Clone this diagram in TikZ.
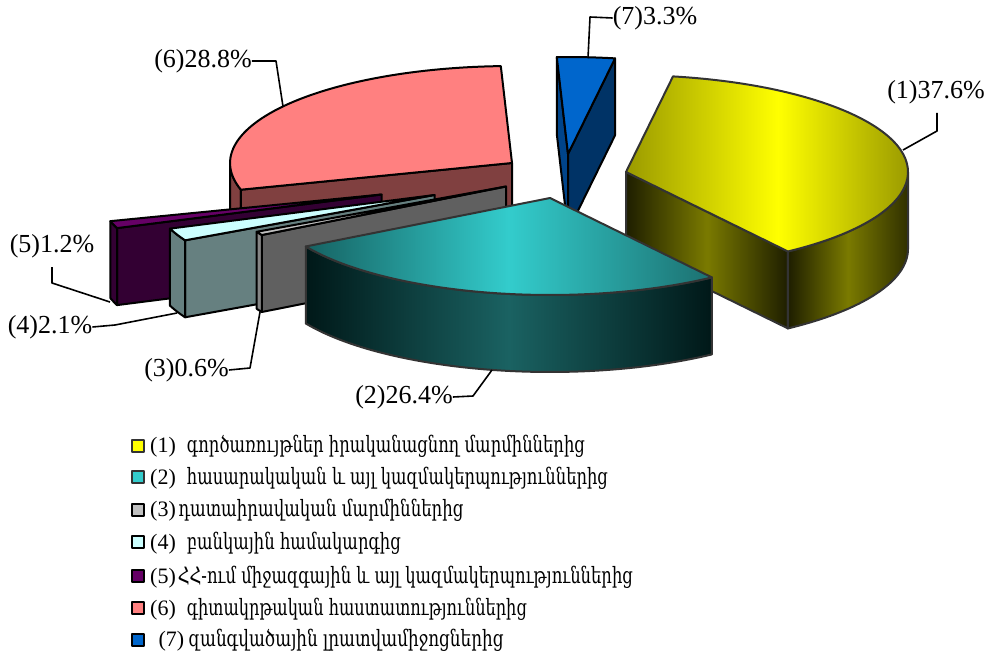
\documentclass[tikz,border=0pt]{standalone}
\usepackage{fontspec}
\setmainfont{Liberation Serif}
\newfontfamily\armfont{DejaVu Serif}
\definecolor{yel}{HTML}{FFFF00}
\definecolor{yelL}{HTML}{9A9A00}
\definecolor{yelR}{HTML}{8A8A00}
\definecolor{ywD}{HTML}{1E1E00}
\definecolor{ywM}{HTML}{7A7A00}
\definecolor{tealT}{HTML}{33CCCC}
\definecolor{tealL}{HTML}{166262}
\definecolor{tealR}{HTML}{1C7070}
\definecolor{twD}{HTML}{001818}
\definecolor{twM}{HTML}{1A6262}
\definecolor{pinkT}{HTML}{FF8080}
\definecolor{pinkS}{HTML}{804040}
\definecolor{blueT}{HTML}{0066CC}
\definecolor{blueS}{HTML}{003366}
\definecolor{blueS2}{HTML}{00448A}
\definecolor{grT}{HTML}{C0C0C0}
\definecolor{grS}{HTML}{606060}
\definecolor{grW}{HTML}{858585}
\definecolor{cyT}{HTML}{CCFFFF}
\definecolor{cyS}{HTML}{668080}
\definecolor{puT}{HTML}{660066}
\definecolor{puS}{HTML}{330033}
\definecolor{outl}{HTML}{333333}
\begin{document}
\begin{tikzpicture}[x=1pt,y=-1pt,line join=round,
  el/.style={x radius=282, y radius=97},
  edge/.style={draw=black, line width=2pt},
  edgeg/.style={draw=outl, line width=2pt},
  lbl/.style={font=\fontsize{26}{30}\selectfont, inner sep=0pt},
  lead/.style={draw=black, line width=1.6pt},
  lgbox/.style={line width=2pt, minimum size=12pt, inner sep=0pt},
  lgnum/.style={font=\fontsize{22}{24}\selectfont, inner sep=0pt, anchor=base west},
  lgarm/.style={font=\armfont\fontsize{22.5}{26}\selectfont, inner sep=0pt, anchor=base west}]
\useasboundingbox (0,0) rectangle (992,655);

% ---- slice 6 (pink) ----
\filldraw[fill=pinkS, edge] (240.9,189.7) arc[el, start angle=164.04, end angle=180] -- ++(0,77) arc[el, start angle=180, end angle=164.04] -- cycle;
\filldraw[fill=pinkS, edge] (512,163) -- (240.9,189.7) -- (240.9,266.7) -- (512,240) -- cycle;
\filldraw[fill=pinkT, edge] (512,163) -- (240.9,189.7) arc[el, start angle=164.04, end angle=267.72] -- cycle;

% ---- slice 7 (blue) ----
\filldraw[fill=blueS2, edge] (568,154) -- (556.8,57.1) -- (556.8,134.1) -- (568,231) -- cycle;
\filldraw[fill=blueS, edge] (568,154) -- (615,58.4) -- (615,135.4) -- (568,231) -- cycle;
\filldraw[fill=blueT, edge] (568,154) -- (556.8,57.1) arc[el, start angle=-92.28, end angle=-80.4] -- cycle;

% ---- slice 1 (yellow) ----
\shadedraw[left color=ywD, right color=ywD, middle color=ywM, edgeg] (626,172) -- (787.9,251.4) -- (787.9,328.4) -- (626,249) -- cycle;
\shadedraw[left color=ywD, right color=ywD!80!ywM, middle color=ywM, edgeg] (908,172) arc[el, start angle=0, end angle=54.96] -- ++(0,77) arc[el, start angle=54.96, end angle=0] -- cycle;
\shadedraw[left color=yelL, right color=yelR, middle color=yel, edgeg] (626,172) -- (673,76.4) arc[el, start angle=-80.4, end angle=54.96] -- cycle;

% ---- slice 5 (purple) ----
\filldraw[fill=puS, edge] (381.5,194.5) -- (117,228.1) -- (117,305.1) -- (381.5,271.5) -- cycle;
\filldraw[fill=puS, edge] (117,228.1) arc[el, start angle=159.72, end angle=164.04] -- ++(0,77) arc[el, start angle=164.04, end angle=159.72] -- cycle;
\filldraw[fill=puT, edge] (381.5,194.5) -- (117,228.1) arc[el, start angle=159.72, end angle=164.04] -- cycle;

% ---- slice 4 (light cyan) ----
\filldraw[fill=cyS, edge] (434.5,195) -- (185.1,240.3) -- (185.1,317.3) -- (434.5,272) -- cycle;
\filldraw[fill=cyS, edge] (185.1,240.3) arc[el, start angle=152.16, end angle=159.72] -- ++(0,77) arc[el, start angle=159.72, end angle=152.16] -- cycle;
\filldraw[fill=cyT, edge] (434.5,195) -- (185.1,240.3) arc[el, start angle=152.16, end angle=159.72] -- cycle;

% ---- slice 3 (gray) ----
\filldraw[fill=grS, edge] (506,186.5) -- (261.8,235) -- (261.8,312) -- (506,263.5) -- cycle;
\filldraw[fill=grW, edge] (261.8,235) arc[el, start angle=150, end angle=152.16] -- ++(0,77) arc[el, start angle=152.16, end angle=150] -- cycle;
\filldraw[fill=grT, edge] (506,186.5) -- (261.8,235) arc[el, start angle=150, end angle=152.16] -- cycle;

% ---- slice 2 (teal) ----
\shadedraw[left color=twD, right color=twD, middle color=twM, edgeg] (711.9,277.4) arc[el, start angle=54.96, end angle=150] -- ++(0,77) arc[el, start angle=150, end angle=54.96] -- cycle;
\shadedraw[left color=tealL, right color=tealR, middle color=tealT, edgeg] (550,198) -- (711.9,277.4) arc[el, start angle=54.96, end angle=150] -- cycle;

% ---- labels ----
\node[lbl] (L6) at (203,61) {(6)28.8\%};
\coordinate (k6) at (276,61);
\coordinate (e6) at (283,106.5);
\draw[lead] (L6.east) -- (k6) -- (e6);

\node[lbl] (L5) at (52,246) {(5)1.2\%};
\coordinate (k5a) at (52,267);
\coordinate (k5b) at (52,283);
\coordinate (e5) at (110,302);
\draw[lead] (k5a) -- (k5b) -- (e5);

\node[lbl] (L4) at (50,327) {(4)2.1\%};
\coordinate (k4) at (115,325);
\coordinate (e4) at (177,313);
\draw[lead] (L4.east) -- (k4) -- (e4);

\node[lbl] (L3) at (186.5,370) {(3)0.6\%};
\coordinate (k3) at (250,368);
\coordinate (e3) at (260,312);
\draw[lead] (L3.east) -- (k3) -- (e3);

\node[lbl] (L2) at (404,397) {(2)26.4\%};
\coordinate (k2) at (473,396);
\coordinate (e2) at (492,370);
\draw[lead] (L2.east) -- (k2) -- (e2);

\node[lbl] (L1) at (936,92) {(1)37.6\%};
\coordinate (k1a) at (937,113);
\coordinate (k1b) at (937,131);
\coordinate (e1) at (903,150);
\draw[lead] (k1a) -- (k1b) -- (e1);

\node[lbl] (L7) at (655,18) {(7)3.3\%};
\coordinate (k7) at (590,17);
\coordinate (e7) at (588,58);
\draw[lead] (L7.west) -- (k7) -- (e7);

% ---- legend ----
\node[lgbox, draw=outl, fill=yel] (s1) at (137.5,445.5) {};
\node[lgbox, draw=outl, fill=tealT] (s2) at (137.5,477) {};
\node[lgbox, draw=black, fill=grT] (s3) at (137.5,509.5) {};
\node[lgbox, draw=black, fill=cyT] (s4) at (137.5,541.5) {};
\node[lgbox, draw=black, fill=puT] (s5) at (137.5,576) {};
\node[lgbox, draw=black, fill=pinkT] (s6) at (137.5,608) {};
\node[lgbox, draw=black, fill=blueT] (s7) at (137.5,639.5) {};

\node[lgnum] (n1) at (150,452) {(1)};
\node[lgarm] (t1) at (186.7,452) {\resizebox{398pt}{\height}{գործառույթներ իրականացնող մարմիններից}};
\node[lgnum] (n2) at (150,484) {(2)};
\node[lgarm] (t2) at (186.7,484) {\resizebox{421pt}{\height}{հասարակական և այլ կազմակերպություններից}};
\node[lgnum] (n3) at (150,516) {(3)};
\node[lgarm] (t3) at (178.3,516) {\resizebox{285pt}{\height}{դատաիրավական մարմիններից}};
\node[lgnum] (n4) at (150,549) {(4)};
\node[lgarm] (t4) at (186.7,549) {\resizebox{214pt}{\height}{բանկային համակարգից}};
\node[lgnum] (n5) at (150,583) {(5)};
\node[lgarm] (t5) at (177.7,583) {\resizebox{455pt}{\height}{ՀՀ-ում միջազգային և այլ կազմակերպություններից}};
\node[lgnum] (n6) at (150,615.5) {(6)};
\node[lgarm] (t6) at (186.7,615.5) {\resizebox{340pt}{\height}{գիտակրթական հաստատություններից}};
\node[lgnum] (n7) at (158.3,646.5) {(7)};
\node[lgarm] (t7) at (188.3,646.5) {\resizebox{315pt}{\height}{զանգվածային լրատվամիջոցներից}};
\end{tikzpicture}
\end{document}
